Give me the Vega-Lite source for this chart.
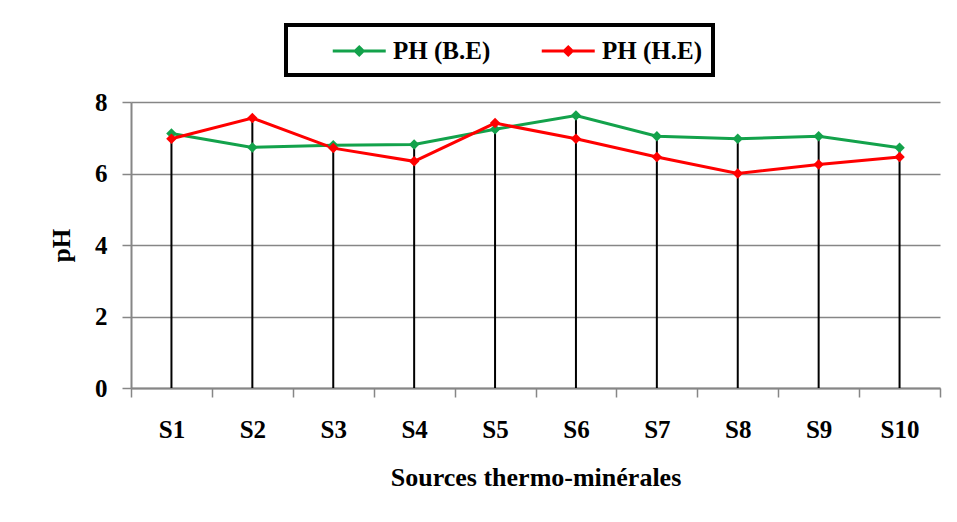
{
  "$schema": "https://vega.github.io/schema/vega-lite/v6.json",
  "width": 809,
  "height": 286,
  "autosize": {"type": "none"},
  "padding": {"left": 131, "top": 102, "right": 17, "bottom": 134},
  "background": "white",
  "config": {
    "view": {"stroke": null},
    "font": "Liberation Serif",
    "axis": {
      "labelFont": "Liberation Serif",
      "labelFontWeight": "bold",
      "labelColor": "black",
      "labelFontSize": 25,
      "titleFont": "Liberation Serif",
      "titleFontWeight": "bold",
      "titleColor": "black",
      "domainColor": "#868686",
      "domainWidth": 2,
      "tickColor": "#868686",
      "tickWidth": 1.5,
      "tickSize": 9,
      "gridColor": "#868686",
      "gridWidth": 1.5
    }
  },
  "data": {
    "values": [
      {"source": "S1", "serie": "PH (B.E)", "ph": 7.12},
      {"source": "S2", "serie": "PH (B.E)", "ph": 6.73},
      {"source": "S3", "serie": "PH (B.E)", "ph": 6.79},
      {"source": "S4", "serie": "PH (B.E)", "ph": 6.81},
      {"source": "S5", "serie": "PH (B.E)", "ph": 7.24},
      {"source": "S6", "serie": "PH (B.E)", "ph": 7.62},
      {"source": "S7", "serie": "PH (B.E)", "ph": 7.04},
      {"source": "S8", "serie": "PH (B.E)", "ph": 6.97},
      {"source": "S9", "serie": "PH (B.E)", "ph": 7.04},
      {"source": "S10", "serie": "PH (B.E)", "ph": 6.72},
      {"source": "S1", "serie": "PH (H.E)", "ph": 6.97},
      {"source": "S2", "serie": "PH (H.E)", "ph": 7.55},
      {"source": "S3", "serie": "PH (H.E)", "ph": 6.71},
      {"source": "S4", "serie": "PH (H.E)", "ph": 6.34},
      {"source": "S5", "serie": "PH (H.E)", "ph": 7.41},
      {"source": "S6", "serie": "PH (H.E)", "ph": 6.97},
      {"source": "S7", "serie": "PH (H.E)", "ph": 6.46},
      {"source": "S8", "serie": "PH (H.E)", "ph": 6.0},
      {"source": "S9", "serie": "PH (H.E)", "ph": 6.25},
      {"source": "S10", "serie": "PH (H.E)", "ph": 6.46}
    ]
  },
  "encoding": {
    "x": {
      "field": "source",
      "type": "nominal",
      "sort": null,
      "scale": {"type": "band", "paddingInner": 0, "paddingOuter": 0},
      "axis": {
        "title": "Sources thermo-minérales",
        "titleFontSize": 26,
        "titlePadding": 22,
        "labelAngle": 0,
        "labelPadding": 20,
        "tickBand": "extent",
        "grid": false
      }
    }
  },
  "layer": [
    {
      "mark": {"type": "rule", "color": "black", "strokeWidth": 2},
      "encoding": {
        "y": {
          "aggregate": "max",
          "field": "ph",
          "type": "quantitative",
          "title": "pH",
          "scale": {"domain": [0, 8], "nice": false},
          "axis": {
            "values": [0, 2, 4, 6, 8],
            "labelPadding": 15,
            "titleFontSize": 25,
            "titlePadding": 20,
            "grid": true
          }
        },
        "y2": {"datum": 0}
      }
    },
    {
      "mark": {
        "type": "line",
        "strokeWidth": 3,
        "point": {"filled": true, "shape": "diamond", "size": 110}
      },
      "encoding": {
        "y": {"field": "ph", "type": "quantitative", "title": "pH"},
        "color": {
          "field": "serie",
          "type": "nominal",
          "scale": {"domain": ["PH (B.E)", "PH (H.E)"], "range": ["#13a24b", "#ff0000"]},
          "legend": {
            "title": null,
            "orient": "none",
            "direction": "horizontal",
            "legendX": 155,
            "legendY": -77,
            "padding": 11,
            "strokeColor": "black",
            "symbolType": "M-1,0H3M1,-0.3L1.3,0L1,0.3L0.7,0Z",
            "symbolSize": 702,
            "symbolStrokeWidth": 3,
            "symbolOffset": 34,
            "labelOffset": 32,
            "labelFont": "Liberation Serif",
            "labelFontWeight": "bold",
            "labelFontSize": 25,
            "labelColor": "black",
            "columnPadding": 15,
            "encode": {
              "symbols": {
                "update": {
                  "fill": {"scale": "color", "field": "value"},
                  "stroke": {"scale": "color", "field": "value"},
                  "opacity": {"value": 1}
                }
              },
              "legend": {"update": {"strokeWidth": {"value": 4}}}
            }
          }
        }
      }
    }
  ]
}
